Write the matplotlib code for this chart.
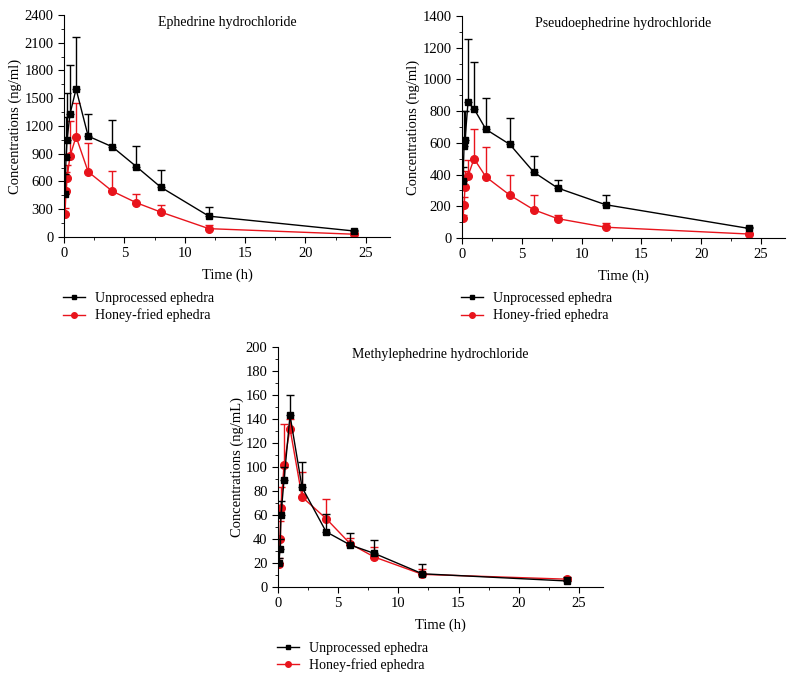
import numpy as np
import matplotlib.pyplot as plt
from matplotlib.ticker import MultipleLocator
from matplotlib.lines import Line2D

plt.rcParams['font.family'] = ['Liberation Serif', 'DejaVu Serif']
plt.rcParams['font.size'] = 10

# sampling times (h)
time_h = [0.083, 0.167, 0.25, 0.5, 1, 2, 4, 6, 8, 12, 24]

# Ephedrine hydrochloride (ng/ml): mean and upper error
eph_raw = [460, 860, 1050, 1330, 1600, 1090, 975, 760, 540, 225, 65]
eph_raw_err = [220, 440, 510, 530, 560, 240, 285, 225, 180, 100, 10]
eph_honey = [250, 500, 635, 875, 1085, 705, 495, 370, 270, 90, 30]
eph_honey_err = [60, 200, 145, 375, 365, 315, 215, 100, 80, 40, 10]

# Pseudoephedrine hydrochloride (ng/ml)
pse_raw = [360, 580, 620, 855, 815, 685, 590, 415, 315, 210, 60]
pse_raw_err = [90, 220, 180, 400, 295, 200, 165, 105, 50, 60, 10]
pse_honey = [125, 210, 320, 390, 500, 385, 270, 178, 122, 68, 25]
pse_honey_err = [20, 50, 100, 100, 190, 190, 130, 92, 23, 27, 5]

# Methylephedrine hydrochloride (ng/mL)
met_raw = [20, 32, 60, 89, 143, 83, 46, 35, 28, 11, 5]
met_raw_err = [4, 8, 12, 11, 17, 21, 15, 10, 11, 8, 3]
met_honey = [19.5, 40, 66, 102, 132, 75, 57, 36, 25, 10.5, 6.5]
met_honey_err = [5, 15, 17, 34, 8, 21, 16, 5, 8, 4.5, 1]

labels = ['Unprocessed ephedra', 'Honey-fried ephedra']
red = '#e8141c'

fig = plt.figure(figsize=(7.94, 6.8), dpi=100)


def panel(rect, title, raw, raw_err, honey, honey_err, ymax, ymaj, ymin, ylabel):
    ax = fig.add_axes(rect)
    ax.errorbar(time_h, raw, yerr=[np.zeros(len(raw)), raw_err], color='black',
                marker='s', ms=4.8, lw=1, elinewidth=1, capsize=3, zorder=3)
    ax.errorbar(time_h, honey, yerr=[np.zeros(len(honey)), honey_err], color=red,
                ecolor=red, marker='o', ms=5.5, lw=1, elinewidth=1, capsize=3, zorder=2)
    ax.set_xlim(0, 27)
    ax.set_ylim(0, ymax)
    ax.xaxis.set_major_locator(MultipleLocator(5))
    ax.xaxis.set_minor_locator(MultipleLocator(2.5))
    ax.yaxis.set_major_locator(MultipleLocator(ymaj))
    ax.yaxis.set_minor_locator(MultipleLocator(ymin))
    ax.spines['top'].set_visible(False)
    ax.spines['right'].set_visible(False)
    ax.tick_params(which='major', length=4, labelsize=10.5)
    ax.tick_params(which='minor', length=2.5)
    ax.set_xlabel('Time (h)', fontsize=10.5, labelpad=6)
    ax.set_ylabel(ylabel, fontsize=10.5, labelpad=1.5)
    ax.text(0.5, 0.995, title, transform=ax.transAxes, ha='center', va='top', fontsize=10)
    return ax


panel([0.0806, 0.6515, 0.4106, 0.3265], 'Ephedrine hydrochloride',
      eph_raw, eph_raw_err, eph_honey, eph_honey_err, 2400, 300, 150, 'Concentrations (ng/ml)')
panel([0.5819, 0.65, 0.4068, 0.3265], 'Pseudoephedrine hydrochloride',
      pse_raw, pse_raw_err, pse_honey, pse_honey_err, 1400, 200, 100, 'Concentrations (ng/ml)')
panel([0.3501, 0.1368, 0.4093, 0.3529], 'Methylephedrine hydrochloride',
      met_raw, met_raw_err, met_honey, met_honey_err, 200, 20, 10, 'Concentrations (ng/mL)')

handles = [Line2D([], [], color='black', marker='s', ms=3.5, lw=1),
           Line2D([], [], color=red, marker='o', ms=4, lw=1)]
for x0, y0 in [(0.0793, 0.548), (0.5806, 0.548), (0.3489, 0.034)]:
    fig.legend(handles, labels, loc='center left', bbox_to_anchor=(x0, y0), frameon=False,
               fontsize=10, handlelength=1.6, handletextpad=0.7, labelspacing=0.25,
               borderpad=0, borderaxespad=0)

fig.savefig('out.png', dpi=100)
